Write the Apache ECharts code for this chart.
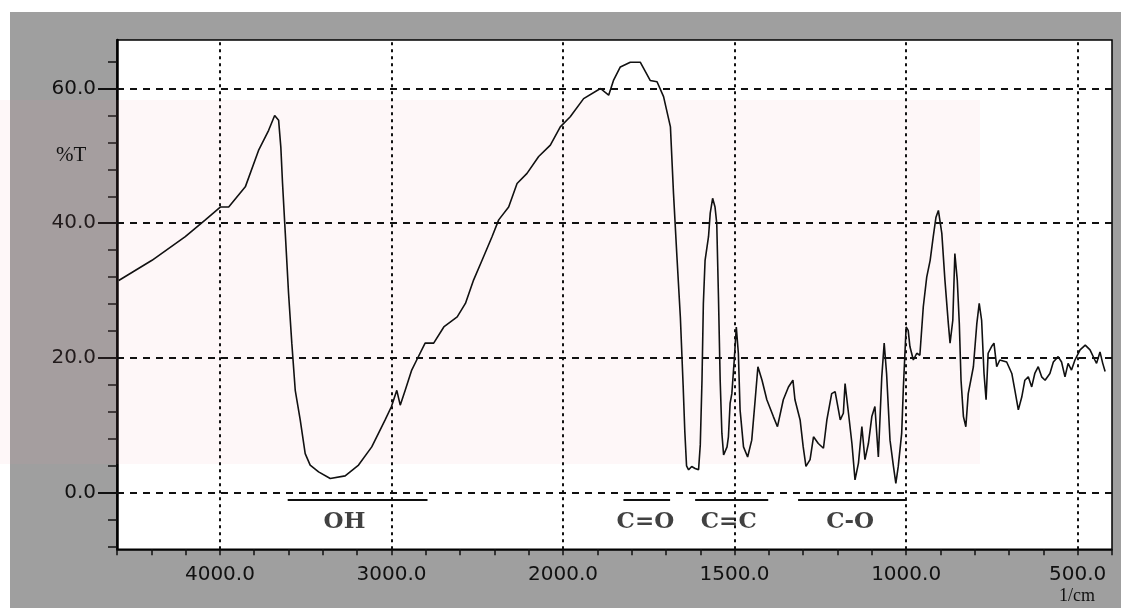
<!DOCTYPE html>
<html>
<head>
<meta charset="utf-8">
<script src="https://cdn.jsdelivr.net/npm/echarts@6/dist/echarts.min.js"></script>
<style>
html,body{margin:0;padding:0;background:#fff;}
#chart{width:1131px;height:608px;}
</style>
</head>
<body>
<div id="chart"></div>
<script>
// ---- Data (wavenumber in 1/cm, transmittance in %T) ----
const wavenumbers = [
  4590,4396,4202,4085,3998,3949,3852,3775,3716,3681,
  3658,3645,3635,3619,3600,3581,3561,3532,3503,3474,
  3425,3357,3270,3192,3115,3037,3000,2969,2949,2920,
  2882,2853,2804,2754,2695,2617,2569,2521,2472,2414,
  2375,2317,2268,2210,2142,2074,2016,1979,1940,1891,
  1867,1853,1833,1804,1775,1746,1726,1707,1687,1678,
  1668,1658,1650,1645,1640,1634,1625,1615,1605,1600,
  1595,1591,1586,1576,1571,1564,1557,1552,1547,1542,
  1537,1532,1522,1518,1513,1508,1501,1495,1489,1484,
  1474,1462,1450,1440,1432,1420,1406,1387,1375,1358,
  1343,1330,1324,1309,1300,1292,1280,1270,1256,1241,
  1231,1217,1207,1192,1183,1178,1168,1158,1149,1139,
  1129,1120,1110,1100,1091,1081,1071,1064,1057,1047,
  1037,1030,1023,1013,1008,1000,994,989,979,969,
  960,950,940,930,921,913,906,896,887,877,
  872,864,858,851,845,840,833,826,819,804,
  794,787,780,773,767,761,751,744,736,727,
  707,692,683,673,663,654,644,634,625,615,
  605,595,581,571,557,547,537,528,518,508,
  493,478,464,450,445,435,427,420
];
const transmittance = [
  31.5,34.5,38.0,40.5,42.4,42.4,45.4,50.8,53.8,56.0,
  55.3,51.3,45.9,38.5,29.6,22.2,15.2,10.8,5.8,4.1,
  3.1,2.1,2.5,4.1,6.8,10.8,12.8,15.2,13.0,15.2,
  18.2,19.7,22.2,22.2,24.6,26.1,28.1,31.6,34.5,38.0,
  40.5,42.4,45.9,47.4,49.9,51.6,54.3,55.8,58.5,60.0,
  59.0,61.2,63.2,63.9,63.9,61.2,61.0,58.8,54.3,44.4,
  35,26,16,9,4,3.4,3.9,3.6,3.4,7.1,
  16.7,28.1,34.5,38.0,41.5,43.7,42.4,40.0,29.1,16.7,
  8.8,5.6,6.8,8.3,13.3,14.7,19.7,24.6,20.7,12.3,
  6.8,5.3,7.8,13.8,18.7,16.7,13.8,11.3,9.8,13.8,
  15.7,16.7,13.8,10.8,6.8,3.9,4.9,8.3,7.3,6.6,
  10.8,14.7,15.0,10.8,11.8,16.2,11.8,7.3,1.9,4.4,
  9.8,4.9,7.3,11.3,12.8,5.3,17.2,22.2,17.7,7.8,
  3.9,1.4,3.9,8.8,15.7,24.6,24.1,21.7,19.7,20.7,
  20.4,27.6,32.0,34.5,38.0,40.9,41.9,38.5,31.6,25.1,
  22.2,25.6,35.5,31.6,25.1,16.7,11.3,9.8,14.7,18.7,
  25.1,28.1,25.6,17.7,13.8,20.7,21.7,22.2,18.7,19.7,
  19.4,17.7,15.2,12.3,14.2,16.7,17.2,15.7,17.7,18.7,
  17.2,16.7,17.7,19.4,20.2,19.4,17.2,19.2,18.2,19.7,
  21.2,21.9,21.2,19.7,19.2,20.9,19.2,18.0
];

// Axis ticks
const xTickValues = [4000, 3000, 2000, 1500, 1000, 500];
const xTickLabels = ['4000.0', '3000.0', '2000.0', '1500.0', '1000.0', '500.0'];
const yTickValues = [0, 20, 40, 60];
const yTickLabels = ['0.0', '20.0', '40.0', '60.0'];

// Band annotations
const bandNames = ['OH', 'C=O', 'C=C', 'C-O'];
const bandStart = [3605, 1824, 1615, 1315];
const bandEnd = [2790, 1688, 1402, 998];
const bandLabelAt = [3274, 1760, 1517, 1163];

// Instrument scale: 200 cm-1 per division above 2000, 100 cm-1 per division below
function toPos(wn) { return wn >= 2000 ? (4000 - wn) / 200 : 10 + (2000 - wn) / 100; }

const X_MIN = toPos(4600), X_MAX = toPos(400);
const Y_MIN = -8.4, Y_MAX = 67.2;
const BAND_LINE_Y = -1.0, BAND_TEXT_Y = -4.4;

const xMinor = [];
for (let w = 4600; w >= 2000; w -= 200) xMinor.push(toPos(w));
for (let w = 1900; w >= 400; w -= 100) xMinor.push(toPos(w));
const yMinor = [];
for (let v = -8; v <= 64; v += 4) yMinor.push(v);

const lineData = wavenumbers.map((w, i) => [toPos(w), transmittance[i]]);

const gridLines = [];
yTickValues.forEach(v => gridLines.push({ yAxis: v, lineStyle: { type: [7, 6], width: 2, color: '#111' } }));
xTickValues.forEach(w => gridLines.push({ xAxis: toPos(w), lineStyle: { type: [3, 4], width: 2, color: '#111' } }));
bandNames.forEach((n, i) => gridLines.push([
  { coord: [toPos(bandStart[i]), BAND_LINE_Y], lineStyle: { type: 'solid', width: 2, color: '#111' } },
  { coord: [toPos(bandEnd[i]), BAND_LINE_Y] }
]));

const bandLabelData = bandNames.map((n, i) => [toPos(bandLabelAt[i]), BAND_TEXT_Y, n]);

function xLabel(v) {
  for (let i = 0; i < xTickValues.length; i++) if (Math.abs(toPos(xTickValues[i]) - v) < 1e-6) return xTickLabels[i];
  return '';
}
function yLabel(v) {
  const i = yTickValues.indexOf(Math.round(v));
  return i >= 0 ? yTickLabels[i] : '';
}

const chart = echarts.init(document.getElementById('chart'), null, { renderer: 'canvas' });
chart.setOption({
  animation: false,
  backgroundColor: '#ffffff',
  grid: {
    left: 117, right: 19, top: 40, bottom: 58.7,
    show: true, backgroundColor: '#ffffff', borderColor: '#000', borderWidth: 1.5
  },
  graphic: [
    { type: 'rect', z: -100, shape: { x: 10, y: 12, width: 1111, height: 596 }, style: { fill: '#9f9f9f' } },
    { type: 'rect', z: 1, silent: true, shape: { x: 0, y: 100, width: 980, height: 364 }, style: { fill: 'rgba(240,150,170,0.08)' } },
    { type: 'text', z: 10, left: 56, top: 145, style: { text: '%T', font: '21px "Liberation Serif"', fill: '#111' } },
    { type: 'text', z: 10, left: 1059, top: 587, style: { text: '1/cm', font: '18px "Liberation Serif"', fill: '#111' } }
  ],
  xAxis: [{
    type: 'value', position: 'bottom', min: X_MIN, max: X_MAX,
    axisLine: { show: true, onZero: false, lineStyle: { color: '#000', width: 1.5 } },
    axisTick: { show: true, inside: false, length: 6, customValues: xMinor, lineStyle: { color: '#111', width: 1.5 } },
    axisLabel: { show: true, customValues: xTickValues.map(toPos), formatter: xLabel, margin: 15,
      fontSize: 20, fontFamily: 'DejaVu Sans', color: '#111' },
    splitLine: { show: false }
  }],
  yAxis: [{
    type: 'value', position: 'left', min: Y_MIN, max: Y_MAX,
    axisLine: { show: true, onZero: false, lineStyle: { color: '#000', width: 2.5 } },
    axisTick: { show: true, inside: false, length: 9, customValues: yMinor, lineStyle: { color: '#111', width: 1.5 } },
    axisLabel: { show: false },
    splitLine: { show: false }
  }, {
    type: 'value', position: 'left', min: Y_MIN, max: Y_MAX,
    axisLine: { show: false, onZero: false },
    axisTick: { show: true, inside: false, length: 19, customValues: yTickValues, lineStyle: { color: '#111', width: 2 } },
    axisLabel: { show: true, customValues: yTickValues, formatter: yLabel, margin: 21,
      fontSize: 20, fontFamily: 'DejaVu Sans', color: '#111' },
    splitLine: { show: false }
  }],
  series: [{
    name: 'Spectrum', type: 'line', data: lineData, xAxisIndex: 0, yAxisIndex: 0,
    showSymbol: false, symbol: 'none', smooth: false, z: 3,
    lineStyle: { color: '#111', width: 1.6 },
    markLine: {
      silent: true, symbol: ['none', 'none'], label: { show: false }, animation: false,
      data: gridLines
    }
  }, {
    name: 'Bands', type: 'scatter', data: bandLabelData, xAxisIndex: 0, yAxisIndex: 0,
    symbolSize: 1, itemStyle: { color: 'rgba(0,0,0,0)' }, z: 4,
    label: { show: true, position: 'inside', formatter: p => p.data[2],
      fontFamily: 'DejaVu Serif', fontWeight: 'bold', fontSize: 23, color: '#111' }
  }]
});
</script>
</body>
</html>
